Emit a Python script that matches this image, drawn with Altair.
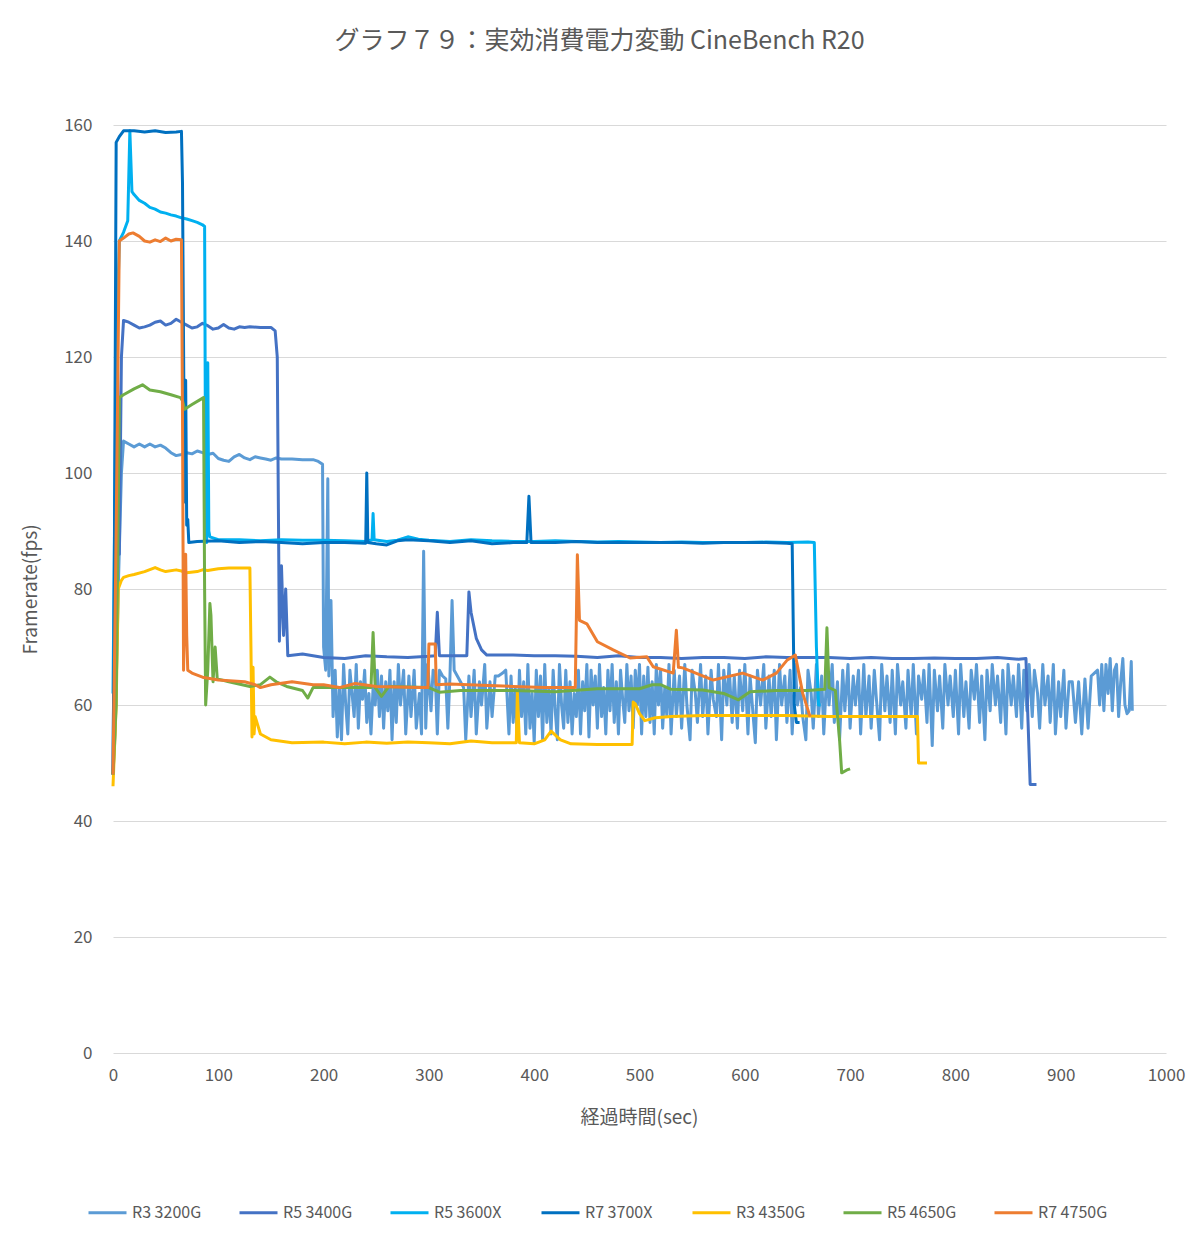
import altair as alt
import pandas as pd

SERIES = ["R3 3200G", "R5 3400G", "R5 3600X", "R7 3700X", "R3 4350G", "R5 4650G", "R7 4750G"]
COLORS = ["#5B9BD5", "#4472C4", "#00B0F0", "#0070C0", "#FFC000", "#70AD47", "#ED7D31"]

r3_3200g = [
    (0, 48), (2, 55), (5, 80), (8, 100), (10, 105.5), (15, 105), (20, 104.5), (25, 105), (30, 104.5), (35, 105),
    (40, 104.5), (45, 104.8), (50, 104.3), (55, 103.5), (60, 103), (65, 103.2), (70, 103.5), (75, 103.3), (80, 103.8),
    (85, 103.5), (90, 103.2), (95, 103.4), (100, 102.5), (105, 102.2), (110, 102.0), (115, 102.8), (120, 103.2),
    (125, 102.6), (130, 102.3), (135, 102.8), (140, 102.6), (145, 102.4), (150, 102.2), (155, 102.6), (160, 102.4),
    (170, 102.4), (180, 102.3), (190, 102.3), (195, 102), (199, 101.5), (200, 70), (202, 66), (204, 99), (205, 65),
    (207, 78), (209, 58), (211, 66), (213, 54.5), (215, 63), (217, 54), (219, 67), (221, 60), (223, 55), (225, 66),
    (227, 62), (229, 58), (231, 67), (233, 56), (235, 64), (237, 61), (239, 66), (241, 57), (243, 62), (245, 55),
    (247, 63), (249, 60), (251, 66), (253, 58), (255, 65), (257, 56), (259, 64), (261, 59), (263, 66), (265, 54),
    (267, 64), (269, 57), (271, 67), (273, 60), (276, 66), (278, 55), (281, 65), (283, 58), (286, 66), (288, 56),
    (291, 62), (293, 55), (295, 86.5), (297, 56), (299, 67), (302, 59), (304, 66), (306, 65.5), (308, 55), (310, 66),
    (313, 65), (316, 64.5), (318, 56), (320, 65), (322, 78), (324, 66), (327, 65), (330, 64), (333, 63), (335, 54),
    (338, 65), (340, 58), (343, 66), (345, 55), (348, 64), (350, 60), (353, 67), (355, 56), (358, 64), (360, 58),
    (363, 65), (366, 65), (370, 65.5), (373, 66), (376, 55), (378, 65), (380, 57), (382, 63), (384, 54), (386, 66),
    (388, 58), (390, 64), (392, 55), (394, 67), (396, 56), (398, 62), (400, 53.5), (402, 66), (404, 58), (406, 65),
    (408, 54), (410, 67), (412, 57), (414, 63), (416, 55), (418, 66), (420, 59), (422, 54), (424, 67), (426, 60),
    (428, 56), (430, 66), (432, 57), (434, 64), (436, 55), (438, 62), (440, 58), (442, 66), (444, 55), (446, 64),
    (448, 59), (450, 67), (452, 54.5), (454, 66), (456, 60), (458, 65), (460, 56), (462, 67), (464, 58), (466, 63),
    (468, 55), (470, 66), (472, 59), (474, 67), (476, 57), (478, 64), (480, 55), (482, 66), (484, 61), (486, 57),
    (488, 67), (490, 59), (492, 65), (494, 56), (496, 66), (498, 60), (500, 67), (502, 55), (504, 65), (506, 58),
    (508, 66.5), (510, 57), (512, 64), (514, 55), (516, 67), (518, 60), (520, 66), (522, 56), (524, 63), (526, 58),
    (528, 67), (530, 55), (533, 66), (535, 58), (538, 65), (540, 56), (543, 67), (545, 60), (548, 54), (550, 66),
    (553, 62), (555, 57), (558, 67), (560, 58), (563, 65), (565, 55), (568, 66), (570, 61), (573, 58), (575, 67),
    (578, 54), (580, 66), (583, 60), (585, 67), (588, 57), (590, 65), (593, 56), (595, 66), (598, 59), (600, 67),
    (603, 55), (605, 65), (608, 58), (610, 53.5), (612, 66), (615, 60), (618, 67), (620, 56), (623, 65), (625, 58),
    (628, 66), (630, 54), (633, 67), (635, 60), (638, 65), (640, 57), (643, 66), (645, 55), (648, 67), (650, 60),
    (653, 63), (655, 58), (658, 54), (660, 66), (663, 62), (665, 56), (668, 67), (670, 58), (673, 65), (675, 55),
    (678, 66), (680, 60), (683, 67), (685, 57), (688, 64), (690, 54), (693, 66), (695, 59), (698, 67), (700, 56),
    (703, 65), (705, 60), (708, 66), (710, 55), (713, 67), (715, 58), (718, 65), (720, 56), (723, 66), (725, 61),
    (728, 54), (730, 67), (733, 59), (735, 65), (738, 57), (740, 66), (743, 55), (745, 67), (748, 60), (750, 64),
    (753, 56), (755, 66), (758, 58), (760, 67), (763, 55), (765, 65), (768, 61), (770, 66), (773, 57), (775, 67),
    (778, 53), (780, 66), (783, 59), (785, 65), (788, 56), (790, 67), (793, 60), (795, 65), (798, 58), (800, 66),
    (803, 55), (805, 67), (808, 58), (810, 64), (813, 56), (815, 66), (818, 61), (820, 67), (823, 57), (825, 65),
    (828, 54), (830, 66), (833, 59), (835, 67), (838, 60), (840, 65), (843, 57), (845, 66), (848, 55), (850, 67),
    (853, 60), (855, 65), (858, 58), (860, 67), (863, 56), (865, 66), (868, 59), (870, 67), (873, 58), (875, 66),
    (878, 62), (880, 56), (883, 67), (885, 60), (888, 65), (890, 57), (893, 67), (895, 55), (898, 64), (900, 58),
    (903, 66), (905, 56), (908, 64), (911, 64), (914, 57), (917, 64), (920, 55), (923, 64.5), (926, 56), (929, 65),
    (932, 65.5), (935, 66), (937, 60), (939, 67), (941, 59), (943, 67), (945, 62), (947, 68), (949, 59), (951, 66),
    (953, 67), (955, 58), (957, 64), (959, 68), (961, 60), (963, 58.5), (965, 59), (967, 67.5), (968, 59),
]

r5_3400g = [
    (0, 48), (2, 96), (3, 75), (4, 123), (6, 86), (8, 120), (10, 126.3), (15, 126), (20, 125.5), (25, 125),
    (30, 125.2), (35, 125.5), (40, 126), (45, 126.2), (50, 125.5), (55, 125.8), (60, 126.5), (65, 126), (70, 125.5),
    (75, 125), (80, 125.2), (85, 125.8), (90, 125.4), (95, 124.8), (100, 125), (105, 125.6), (110, 125), (115, 124.8),
    (120, 125.2), (125, 125.1), (130, 125.2), (140, 125.1), (150, 125.1), (154, 124.5), (156, 120), (158, 71),
    (160, 84), (162, 72), (164, 80), (166, 68.5), (180, 68.8), (200, 68.2), (220, 68), (240, 68.5), (260, 68.3),
    (280, 68.2), (300, 68.4), (306, 68.5), (308, 76), (310, 68.5), (320, 68.5), (336, 68.5), (338, 79.5), (340, 76),
    (345, 71.5), (350, 69.5), (355, 68.6), (380, 68.6), (400, 68.5), (420, 68.5), (440, 68.4), (460, 68.2),
    (480, 68.5), (500, 68.2), (520, 68.2), (540, 68), (560, 68.2), (580, 68.2), (600, 68), (620, 68.3), (640, 68.2),
    (660, 68.2), (680, 68.2), (700, 68), (720, 68.2), (740, 68), (760, 68), (780, 68.1), (800, 68), (820, 68),
    (840, 68.2), (860, 67.9), (867, 68), (869, 57), (871, 46.3), (877, 46.3),
]

r5_3600x = [
    (0, 62), (3, 120), (6, 140), (10, 141.5), (14, 143.5), (16, 159), (18, 148.5), (20, 148), (25, 147), (30, 146.5),
    (35, 145.8), (40, 145.5), (45, 145), (50, 144.8), (55, 144.5), (60, 144.3), (65, 144), (70, 143.8), (75, 143.5),
    (80, 143.2), (85, 142.8), (87, 142.5), (88, 95), (89, 88), (90, 119), (91, 90), (92, 89), (100, 88.5),
    (120, 88.5), (140, 88.3), (160, 88.5), (180, 88.4), (200, 88.4), (220, 88.3), (240, 88.2), (246, 88.5),
    (247, 93), (248, 88.5), (260, 88.2), (270, 88.4), (280, 89), (290, 88.6), (300, 88.4), (320, 88.2), (340, 88.5),
    (360, 88.3), (380, 88.2), (400, 88.2), (420, 88.3), (440, 88.2), (460, 88.1), (480, 88.2), (500, 88.1),
    (520, 88), (540, 88.1), (560, 88), (580, 88), (600, 88), (620, 88.1), (640, 88), (660, 88.1), (666, 88),
    (668, 70), (670, 60), (672, 60),
]

r7_3700x = [
    (0, 48), (1, 73), (3, 157), (6, 158), (10, 159), (20, 159), (30, 158.8), (40, 159), (50, 158.7), (60, 158.8),
    (65, 158.9), (66, 150), (68, 95), (69, 116), (70, 91), (71, 92), (72, 88), (80, 88.2), (100, 88.3), (120, 88),
    (140, 88.2), (160, 88), (180, 87.8), (200, 88), (220, 88), (240, 87.9), (241, 100), (242, 88), (250, 87.8),
    (260, 87.6), (270, 88.3), (280, 88.5), (300, 88.3), (320, 88), (340, 88.3), (360, 87.8), (380, 88), (393, 88),
    (395, 96), (397, 88), (420, 88), (440, 88.2), (460, 88), (480, 88), (500, 88), (520, 88), (540, 88),
    (560, 87.9), (580, 88), (600, 88), (620, 88), (640, 87.9), (645, 87.8), (647, 60), (649, 57), (652, 57),
]

r3_4350g = [
    (0, 46), (3, 60), (5, 80), (8, 81.5), (10, 82), (15, 82.3), (20, 82.5), (30, 83), (40, 83.7), (45, 83.3),
    (50, 83), (60, 83.3), (65, 83.1), (70, 82.8), (80, 83), (85, 83.3), (90, 83.2), (100, 83.5), (110, 83.6),
    (120, 83.6), (130, 83.6), (131, 70), (132, 54.5), (133, 66.5), (134, 55), (135, 58), (140, 55), (150, 54),
    (170, 53.5), (200, 53.6), (220, 53.3), (240, 53.6), (260, 53.4), (280, 53.6), (300, 53.5), (320, 53.3),
    (340, 53.8), (360, 53.5), (383, 53.5), (384, 62.3), (386, 53.5), (400, 53.3), (410, 54), (416, 55.5),
    (425, 54), (435, 53.3), (460, 53.2), (493, 53.2), (494, 60.5), (496, 60.2), (500, 58.5), (505, 57.3),
    (515, 57.8), (530, 58), (560, 58.2), (600, 58.2), (640, 58.2), (680, 58), (720, 58), (764, 58), (765, 50),
    (773, 50),
]

r5_4650g = [
    (0, 48), (3, 60), (6, 113), (10, 113.5), (20, 114.5), (28, 115.2), (35, 114.3), (45, 114), (55, 113.5),
    (64, 113), (66, 112.5), (68, 111), (75, 111.8), (86, 113), (87, 80), (88, 60), (90, 66), (92, 77.5), (93, 75.5),
    (95, 64), (97, 70), (99, 64.5), (110, 64), (130, 63.2), (140, 63.5), (149, 64.8), (155, 64), (165, 63.2),
    (180, 62.5), (185, 61.2), (190, 63), (210, 63), (245, 63), (247, 72.5), (249, 63), (255, 61.5), (262, 63.2),
    (300, 63), (310, 62.2), (330, 62.5), (380, 62.5), (420, 62.3), (460, 62.8), (500, 62.8), (512, 63.5),
    (520, 63.5), (530, 62.7), (560, 62.6), (580, 62), (594, 60.9), (605, 62.3), (630, 62.5), (660, 62.5),
    (676, 62.7), (678, 73.3), (680, 63), (686, 62.5), (690, 54), (692, 48.3), (697, 48.8), (700, 49),
]

r7_4750g = [
    (0, 48), (3, 90), (6, 140), (10, 140.5), (15, 141.2), (19, 141.4), (25, 140.8), (30, 140), (35, 139.8),
    (40, 140.2), (45, 139.9), (50, 140.5), (55, 140), (60, 140.3), (65, 140.2), (66, 110), (67, 66), (69, 86),
    (70, 72), (71, 66), (75, 65.5), (85, 64.8), (100, 64.3), (125, 64), (135, 63.5), (140, 63), (150, 63.5),
    (170, 64), (190, 63.5), (200, 63.5), (215, 63), (230, 63.7), (250, 63.2), (290, 63), (299, 63), (300, 70.5),
    (306, 70.5), (307, 63.5), (320, 63.6), (350, 63.4), (380, 63.2), (410, 63), (439, 63), (441, 85.9),
    (443, 74.6), (450, 74), (460, 70.9), (475, 69.5), (491, 68.1), (507, 68.3), (513, 66.6), (532, 65.5),
    (535, 72.9), (537, 66.5), (541, 66.4), (570, 64.3), (598, 65.5), (617, 64.3), (630, 65.5), (640, 67.7),
    (648, 68.6), (655, 62), (662, 58),
]

X_TICKS = list(range(0, 1001, 100))
Y_TICKS = list(range(0, 161, 20))

DATA = [r3_3200g, r5_3400g, r5_3600x, r7_3700x, r3_4350g, r5_4650g, r7_4750g]

rows = []
for name, pts in zip(SERIES, DATA):
    for t, v in pts:
        rows.append({"series": name, "t": t, "v": v})
df = pd.DataFrame(rows)

FONT = "Noto Sans CJK JP"
GREY = "#595959"

color = alt.Color(
    "series:N",
    scale=alt.Scale(domain=SERIES, range=COLORS),
    legend=alt.Legend(
        title=None,
        orient="none",
        direction="horizontal",
        columns=7,
        legendX=-26,
        legendY=1067,
        gridAlign="all",
        columnPadding=31,
        symbolType="stroke",
        symbolSize=1444,
        symbolStrokeWidth=3,
        labelOffset=4,
        labelFontSize=16,
        labelColor=GREY,
        labelFont=FONT,
        padding=0,
    ),
)

x = alt.X(
    "t:Q",
    scale=alt.Scale(domain=[0, 1000], nice=False, zero=True),
    axis=alt.Axis(
        values=X_TICKS, format="d", labelFlush=False, grid=False, domain=False, ticks=False, tickSize=0,
        labelPadding=14, labelFontSize=17, labelColor=GREY, labelFont=FONT,
        title="経過時間(sec)", titleFontSize=19, titleColor=GREY, titleFont=FONT,
        titleFontWeight="normal", titleX=526, titleY=64, titleBaseline="middle",
        titleAlign="center",
    ),
)
y = alt.Y(
    "v:Q",
    scale=alt.Scale(domain=[0, 160], nice=False),
    axis=alt.Axis(
        values=Y_TICKS, grid=True, gridColor="#D9D9D9", gridWidth=1, domain=False,
        ticks=False, tickSize=0, labelPadding=21, labelFontSize=17, labelColor=GREY,
        labelFont=FONT, title="Framerate(fps)", titleFontSize=19, titleColor=GREY,
        titleFont=FONT, titleFontWeight="normal", titleX=-83, titleY=464,
        titleAngle=270, titleBaseline="middle", titleAlign="center",
    ),
)

layers = []
for name in SERIES:
    layers.append(
        alt.Chart(df)
        .transform_filter(alt.datum.series == name)
        .mark_line(strokeWidth=3, strokeJoin="round")
        .encode(x=x, y=y, color=color, order="t:Q")
    )

chart = (
    alt.layer(*layers)
    .properties(
        width=1053,
        height=928,
        title=alt.TitleParams(
            "グラフ７９：実効消費電力変動 CineBench R20",
            fontSize=25, font=FONT, color=GREY, fontWeight="normal",
            anchor="middle", frame="group", dx=-40, offset=50, baseline="middle",
        ),
        autosize=alt.AutoSizeParams(type="none"),
        padding={"left": 105, "top": 117, "right": 26, "bottom": 186},
        background="white",
    )
    .configure_view(stroke=None)
)

chart.save("out.html", embed_options={"renderer": "svg", "actions": False})
